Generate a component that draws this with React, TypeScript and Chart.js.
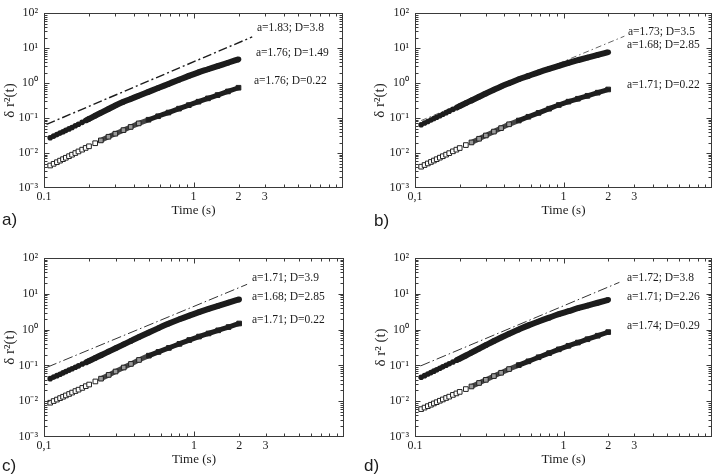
import React, { useEffect, useRef } from 'react';
import { Chart, registerables } from 'chart.js';

Chart.register(...registerables);

// ---- data ----
const times = [0.11, 0.116, 0.122, 0.128, 0.134, 0.14, 0.147, 0.154, 0.162, 0.17, 0.18, 0.19, 0.2, 0.22, 0.24, 0.27, 0.3, 0.34, 0.38, 0.43, 0.5, 0.58, 0.68, 0.8, 0.93, 1.08, 1.25, 1.45, 1.7, 2.0];

const aCircles = [0.0274, 0.0305, 0.0337, 0.0372, 0.0407, 0.0445, 0.0491, 0.054, 0.0601, 0.0667, 0.0755, 0.0849, 0.0948, 0.117, 0.141, 0.182, 0.229, 0.292, 0.352, 0.435, 0.562, 0.723, 0.948, 1.25, 1.61, 2.03, 2.49, 3.06, 3.83, 4.79];
const aSquares = [0.0044, 0.00492, 0.00547, 0.00606, 0.00668, 0.00733, 0.00813, 0.00897, 0.00999, 0.0111, 0.0125, 0.014, 0.0156, 0.0191, 0.023, 0.0292, 0.0357, 0.0452, 0.0558, 0.0705, 0.0896, 0.113, 0.144, 0.186, 0.234, 0.294, 0.366, 0.456, 0.578, 0.737];
const aFitTimes = [0.104, 2.47];
const aFitValues = [0.066, 21];

const bCircles = [0.0647, 0.0721, 0.08, 0.0883, 0.0968, 0.106, 0.117, 0.129, 0.143, 0.158, 0.177, 0.198, 0.22, 0.268, 0.32, 0.407, 0.506, 0.647, 0.8, 0.995, 1.29, 1.61, 2.04, 2.56, 3.13, 3.79, 4.52, 5.38, 6.41, 7.67];
const bSquares = [0.00407, 0.00454, 0.00504, 0.00556, 0.0061, 0.00667, 0.00738, 0.00811, 0.00899, 0.00993, 0.0112, 0.0125, 0.0139, 0.0169, 0.0201, 0.0256, 0.0318, 0.0411, 0.0516, 0.0664, 0.0851, 0.109, 0.141, 0.185, 0.237, 0.295, 0.357, 0.434, 0.533, 0.658];
const bFitTimes = [0.11, 2.57];
const bFitValues = [0.085, 22];

const cCircles = [0.0426, 0.0471, 0.0518, 0.0568, 0.0619, 0.0673, 0.0738, 0.0806, 0.0887, 0.0973, 0.109, 0.121, 0.134, 0.162, 0.193, 0.244, 0.301, 0.387, 0.484, 0.62, 0.832, 1.1, 1.47, 1.94, 2.46, 3.07, 3.78, 4.62, 5.69, 6.97];
const cSquares = [0.00908, 0.0101, 0.0111, 0.0122, 0.0133, 0.0145, 0.0159, 0.0174, 0.0192, 0.021, 0.0235, 0.0263, 0.0292, 0.0356, 0.0426, 0.0543, 0.0675, 0.0873, 0.11, 0.142, 0.187, 0.238, 0.308, 0.4, 0.511, 0.639, 0.78, 0.954, 1.18, 1.48];
const cFitTimes = [0.105, 2.26];
const cFitValues = [0.089, 18.4];

const dCircles = [0.0466, 0.0518, 0.0573, 0.063, 0.069, 0.0754, 0.0831, 0.0912, 0.101, 0.111, 0.125, 0.139, 0.154, 0.189, 0.228, 0.293, 0.368, 0.482, 0.604, 0.768, 1.01, 1.31, 1.69, 2.16, 2.69, 3.26, 3.95, 4.69, 5.62, 6.78];
const dSquares = [0.00601, 0.00663, 0.00728, 0.00796, 0.00866, 0.00939, 0.0103, 0.0112, 0.0123, 0.0134, 0.015, 0.0165, 0.0182, 0.0218, 0.0258, 0.0323, 0.0395, 0.0503, 0.0622, 0.0789, 0.102, 0.13, 0.169, 0.22, 0.281, 0.353, 0.435, 0.538, 0.675, 0.851];
const dFitTimes = [0.109, 2.38];
const dFitValues = [0.0966, 20.9];

const xTickValues = [0.1, 1, 2, 3];
const xTickLabelsPoint = ['0.1', '1', '2', '3'];
const xTickLabelsComma = ['0,1', '1', '2', '3'];
const yTickValues = [0.001, 0.01, 0.1, 1, 10, 100];
const yTickLabels = ['10\u207B\u00B3', '10\u207B\u00B2', '10\u207B\u00B9', '10\u2070', '10\u00B9', '10\u00B2'];

const aNotes = ['a=1.83; D=3.8', 'a=1.76; D=1.49', 'a=1.76; D=0.22'];
const bNotes = ['a=1.73; D=3.5', 'a=1.68; D=2.85', 'a=1.71; D=0.22'];
const cNotes = ['a=1.71; D=3.9', 'a=1.68; D=2.85', 'a=1.71; D=0.22'];
const dNotes = ['a=1.72; D=3.8', 'a=1.71; D=2.26', 'a=1.74; D=0.29'];

// ---- styling ----
const SERIF = "'Liberation Serif', 'Times New Roman', serif";
const SANS = "'Liberation Sans', Arial, sans-serif";
const INK = '#1c1c1c';

const frameTicks = {
  id: 'frameTicks',
  afterDatasetsDraw(chart: any) {
    const { ctx, chartArea, scales } = chart;
    const xs = scales.x;
    const ys = scales.y;
    const L = Math.round(chartArea.left) + 0.5;
    const R = Math.round(chartArea.right) - 0.5;
    const T = Math.round(chartArea.top) + 0.5;
    const B = Math.round(chartArea.bottom) - 0.5;
    ctx.save();
    ctx.strokeStyle = '#3a3a3a';
    ctx.lineWidth = 1;
    ctx.strokeRect(L, T, R - L, B - T);
    ctx.beginPath();
    for (let d = -1; d <= 0; d++) {
      for (let m = 1; m <= 9; m++) {
        if (d === -1 && m === 1) continue;
        const v = m * Math.pow(10, d);
        const px = Math.round(xs.getPixelForValue(v)) + 0.5;
        const len = m === 1 ? 5 : 3;
        ctx.moveTo(px, B); ctx.lineTo(px, B - len);
        ctx.moveTo(px, T); ctx.lineTo(px, T + len);
      }
    }
    for (let d = -3; d <= 1; d++) {
      for (let m = 1; m <= 9; m++) {
        if (d === -3 && m === 1) continue;
        const v = m * Math.pow(10, d);
        const py = Math.round(ys.getPixelForValue(v)) + 0.5;
        const len = m === 1 ? 5 : 3;
        ctx.moveTo(L, py); ctx.lineTo(L + len, py);
        ctx.moveTo(R, py); ctx.lineTo(R - len, py);
      }
    }
    ctx.stroke();
    ctx.restore();
  },
};

type PanelCfg = {
  circles: number[];
  squares: number[];
  fitT: number[];
  fitV: number[];
  xLabels: string[];
  yTitle: string;
  box: { left: number; top: number; width: number; height: number };
  pad: { left: number; right: number; top: number; bottom: number };
  yWidth: number;
  yTitlePad: number;
  fitStyle: { width: number; dash: number[]; color: string };
};

function Panel({ cfg }: { cfg: PanelCfg }) {
  const ref = useRef<HTMLCanvasElement>(null);
  useEffect(() => {
    if (!ref.current) return;
    const circleData = times.map((t, i) => ({ x: t, y: cfg.circles[i] }));
    const squareData = times.map((t, i) => ({ x: t, y: cfg.squares[i] }));
    const fitData = cfg.fitT.map((t, i) => ({ x: t, y: cfg.fitV[i] }));
    const chart = new Chart(ref.current, {
      type: 'scatter',
      data: {
        datasets: [
          {
            data: circleData,
            showLine: true,
            borderColor: INK,
            borderWidth: 6,
            cubicInterpolationMode: 'monotone',
            segment: {
              borderColor: (c: any) => (c.p0.parsed.x < 0.19 ? 'rgba(0,0,0,0)' : INK),
            },
            pointStyle: 'circle',
            pointRadius: 2.8,
            pointBackgroundColor: INK,
            pointBorderWidth: 0,
            order: 1,
          },
          {
            data: squareData,
            showLine: true,
            borderColor: '#222',
            borderWidth: 5,
            cubicInterpolationMode: 'monotone',
            segment: {
              borderColor: (c: any) =>
                c.p0.parsed.x < 0.24 ? 'rgba(0,0,0,0)' : c.p0.parsed.x < 0.45 ? '#444' : '#1e1e1e',
            },
            pointStyle: 'rect',
            pointRadius: 3.3,
            pointBorderWidth: 1,
            pointBorderColor: '#222',
            pointBackgroundColor: (c: any) => {
              const x = c.raw ? c.raw.x : 0;
              if (x >= 0.5) return '#1e1e1e';
              if (x >= 0.24) return '#9a9a9a';
              return '#ffffff';
            },
            order: 2,
          },
          {
            data: fitData,
            showLine: true,
            borderColor: cfg.fitStyle.color,
            borderWidth: cfg.fitStyle.width,
            borderDash: cfg.fitStyle.dash,
            pointRadius: 0,
            order: 3,
          },
        ],
      } as any,
      options: {
        animation: false,
        responsive: false,
        maintainAspectRatio: false,
        events: [],
        layout: { padding: cfg.pad },
        plugins: { legend: { display: false }, tooltip: { enabled: false } },
        scales: {
          x: {
            type: 'logarithmic',
            min: 0.1,
            max: 10,
            afterBuildTicks: (s: any) => {
              s.ticks = xTickValues.map((v) => ({ value: v }));
            },
            afterFit: (s: any) => {
              s.height = 30;
            },
            ticks: {
              autoSkip: false,
              maxRotation: 0,
              padding: 2,
              color: INK,
              font: { family: SERIF, size: 12 },
              callback: (_v: any, i: number) => cfg.xLabels[i],
            },
            grid: { display: false, drawTicks: false },
            border: { display: false },
            title: {
              display: true,
              text: 'Time (s)',
              color: INK,
              font: { family: SERIF, size: 13 },
              padding: { top: 0, bottom: 0 },
            },
          },
          y: {
            type: 'logarithmic',
            min: 0.001,
            max: 100,
            afterBuildTicks: (s: any) => {
              s.ticks = yTickValues.map((v) => ({ value: v }));
            },
            afterFit: (s: any) => {
              s.width = cfg.yWidth;
            },
            ticks: {
              autoSkip: false,
              padding: 6,
              color: INK,
              font: { family: SERIF, size: 12 },
              callback: (_v: any, i: number) => yTickLabels[i],
            },
            grid: { display: false, drawTicks: false },
            border: { display: false },
            title: {
              display: true,
              text: cfg.yTitle,
              color: INK,
              font: { family: SERIF, size: 15 },
              padding: { top: cfg.yTitlePad, bottom: 0 },
            },
          },
        },
      } as any,
      plugins: [frameTicks],
    });
    return () => chart.destroy();
  }, [cfg]);
  return (
    <canvas
      ref={ref}
      width={cfg.box.width}
      height={cfg.box.height}
      style={{ position: 'absolute', left: cfg.box.left, top: cfg.box.top, width: cfg.box.width, height: cfg.box.height }}
    />
  );
}

const panelA: PanelCfg = {
  circles: aCircles, squares: aSquares, fitT: aFitTimes, fitV: aFitValues,
  xLabels: xTickLabelsPoint, yTitle: '\u03B4 r\u00B2(t)',
  box: { left: 0, top: 0, width: 358, height: 235 },
  pad: { left: 0, right: 15, top: 9, bottom: 17 },
  yWidth: 44, yTitlePad: 1,
  fitStyle: { width: 1.4, dash: [9, 3, 2, 3], color: '#1c1c1c' },
};
const panelB: PanelCfg = {
  circles: bCircles, squares: bSquares, fitT: bFitTimes, fitV: bFitValues,
  xLabels: xTickLabelsComma, yTitle: '\u03B4 r\u00B2(t)',
  box: { left: 358, top: 0, width: 359, height: 235 },
  pad: { left: 0, right: 4, top: 9, bottom: 17 },
  yWidth: 57, yTitlePad: 13,
  fitStyle: { width: 0.9, dash: [6, 3, 1.5, 3], color: '#555' },
};
const panelC: PanelCfg = {
  circles: cCircles, squares: cSquares, fitT: cFitTimes, fitV: cFitValues,
  xLabels: xTickLabelsComma, yTitle: '\u03B4 r\u00B2(t)',
  box: { left: 0, top: 235, width: 358, height: 240 },
  pad: { left: 0, right: 14, top: 23, bottom: 8 },
  yWidth: 44, yTitlePad: 1,
  fitStyle: { width: 1, dash: [10, 3, 1.5, 3], color: '#333' },
};
const panelD: PanelCfg = {
  circles: dCircles, squares: dSquares, fitT: dFitTimes, fitV: dFitValues,
  xLabels: xTickLabelsPoint, yTitle: '\u03B4 r\u00B2 (t)',
  box: { left: 358, top: 235, width: 359, height: 240 },
  pad: { left: 0, right: 4, top: 23, bottom: 8 },
  yWidth: 57, yTitlePad: 14,
  fitStyle: { width: 1, dash: [10, 3, 1.5, 3], color: '#333' },
};

function Note({ x, y, text, sans, size }: { x: number; y: number; text: string; sans?: boolean; size: number }) {
  return (
    <span
      style={{
        position: 'absolute', left: x, top: y, transform: 'translateY(-50%)',
        fontFamily: sans ? SANS : SERIF, fontSize: size, lineHeight: 1, color: INK, whiteSpace: 'nowrap',
      }}
    >
      {text}
    </span>
  );
}

export default function App() {
  return (
    <div style={{ position: 'absolute', left: 0, top: 0, width: 717, height: 475, background: '#fff', overflow: 'hidden' }}>
      <Panel cfg={panelA} />
      <Panel cfg={panelB} />
      <Panel cfg={panelC} />
      <Panel cfg={panelD} />

      <Note x={257} y={28} text={aNotes[0]} size={11.5} />
      <Note x={256} y={53} text={aNotes[1]} size={11.5} />
      <Note x={254} y={81} text={aNotes[2]} size={11.5} />

      <Note x={628} y={32} text={bNotes[0]} size={11.5} />
      <Note x={627} y={45} text={bNotes[1]} size={11.5} />
      <Note x={627} y={85} text={bNotes[2]} size={11.5} />

      <Note x={252} y={278} text={cNotes[0]} size={11.5} />
      <Note x={252} y={297} text={cNotes[1]} size={11.5} />
      <Note x={252} y={320} text={cNotes[2]} size={11.5} />

      <Note x={627} y={278} text={dNotes[0]} size={11.5} />
      <Note x={627} y={297} text={dNotes[1]} size={11.5} />
      <Note x={627} y={326} text={dNotes[2]} size={11.5} />

      <Note x={2} y={219} text="a)" sans size={17} />
      <Note x={374} y={220} text="b)" sans size={17} />
      <Note x={2} y={465} text="c)" sans size={17} />
      <Note x={364} y={465} text="d)" sans size={17} />
    </div>
  );
}
